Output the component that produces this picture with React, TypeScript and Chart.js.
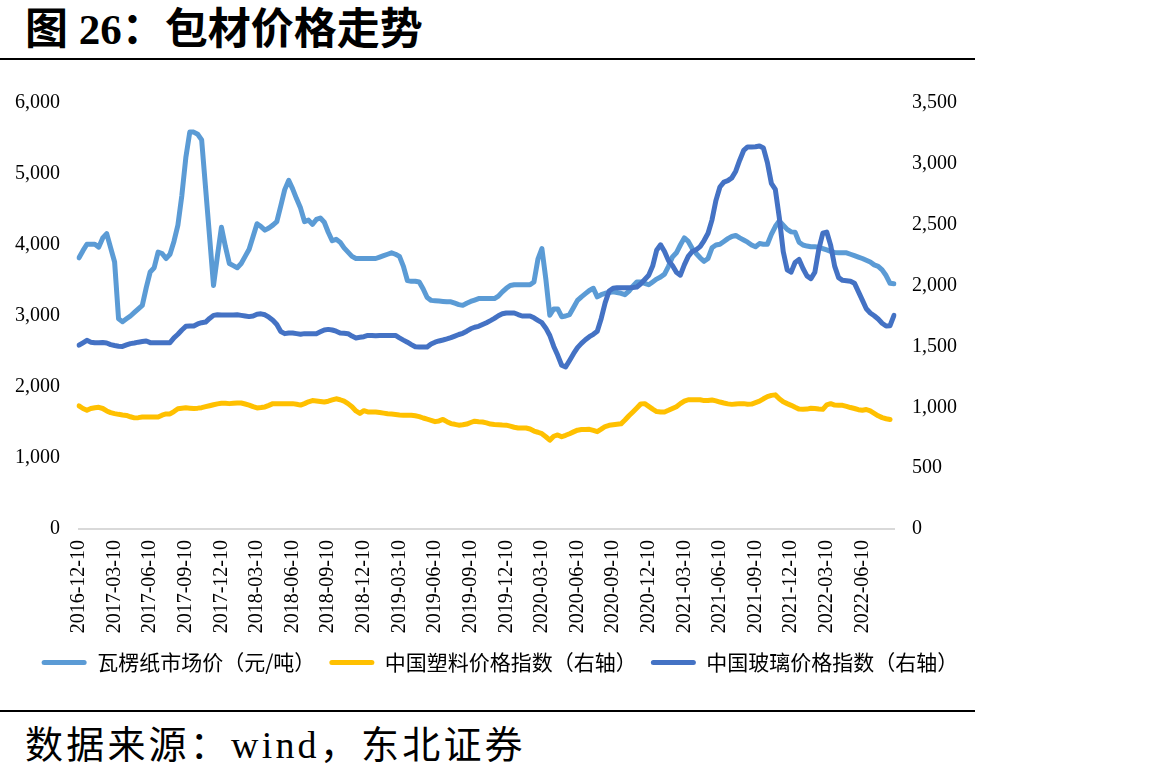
import React, { useEffect, useRef } from "react";
import { Chart, registerables } from "chart.js";

Chart.register(...registerables);

// ---- Data (10-day frequency, 2016-12-10 … 2022-08-30) ----
const seriesNames = ["瓦楞纸市场价（元/吨）", "中国塑料价格指数（右轴）", "中国玻璃价格指数（右轴）"];

const corrugatedPaper: number[] = [
  3820, 3920, 4010, 4010, 4010, 3970, 4100, 4160, 3960, 3760,
  2960, 2920, 2960, 3000, 3050, 3100, 3150, 3400, 3620, 3680,
  3900, 3880, 3810, 3870, 4050, 4280, 4700, 5230, 5590, 5590,
  5560, 5480, 4800, 4120, 3430, 3850, 4250, 3980, 3740, 3710,
  3680, 3740, 3840, 3940, 4120, 4300, 4260, 4210, 4240, 4280,
  4330, 4550, 4780, 4910, 4790, 4650, 4520, 4330, 4350, 4290,
  4360, 4380, 4320, 4180, 4060, 4080, 4040, 3960, 3900, 3840,
  3810, 3810, 3810, 3810, 3810, 3810, 3830, 3850, 3870, 3890,
  3870, 3840, 3700, 3500, 3490, 3490, 3480, 3380, 3260, 3220,
  3215, 3210, 3205, 3200, 3200, 3180, 3160, 3150, 3180, 3205,
  3225, 3245, 3245, 3245, 3245, 3245, 3280, 3340, 3390, 3430,
  3440, 3440, 3440, 3440, 3440, 3480, 3800, 3950, 3520, 3010,
  3100, 3100, 2990, 3000, 3020, 3120, 3220, 3270, 3315, 3360,
  3390, 3270, 3300, 3320, 3330, 3340, 3330, 3320, 3300, 3350,
  3420, 3480, 3480, 3460, 3440, 3480, 3520, 3550, 3590, 3700,
  3830, 3890, 4000, 4100, 4050, 3950, 3880, 3820, 3770, 3810,
  3960, 4000, 4010, 4050, 4090, 4120, 4135, 4100, 4070, 4040,
  4000, 3975, 4020, 4010, 4010, 4150, 4260, 4340, 4280, 4220,
  4185, 4180, 4040, 4000, 3985, 3975, 3975, 3970, 3950, 3930,
  3910, 3895, 3890, 3890, 3890, 3870, 3850, 3830, 3810, 3785,
  3760, 3720, 3700, 3650, 3570, 3460, 3455,
];

const plasticIndex: (number | null)[] = [
  1011, 990, 975, 990, 996, 1000, 990, 970, 956, 948,
  942, 937, 933, 922, 913, 915, 920, 920, 920, 920,
  920, 935, 945, 945, 965, 988, 992, 996, 993, 990,
  993, 997, 1005, 1013, 1021, 1028, 1033, 1033, 1030, 1033,
  1036, 1035, 1027, 1018, 1005, 995, 998, 1003, 1016, 1030,
  1030, 1030, 1030, 1030, 1030, 1025, 1018, 1030, 1045, 1055,
  1052, 1048, 1043, 1050, 1060, 1070, 1062, 1050, 1030, 1005,
  970, 950, 972, 962, 961, 961, 957, 952, 947, 944,
  941, 937, 934, 934, 934, 930, 923, 912, 902, 893,
  882, 888, 900, 882, 866, 860, 853, 856, 862, 875,
  886, 882, 879, 872, 862, 858, 856, 854, 853, 845,
  836, 830, 830, 830, 822, 805, 795, 783, 758, 730,
  762, 773, 758, 770, 783, 798, 812, 817, 818, 819,
  810, 800, 820, 842, 852, 856, 860, 864, 895, 930,
  962, 995, 1028, 1030, 1008, 985, 965, 961, 961, 975,
  990, 1005, 1030, 1050, 1062, 1062, 1062, 1062, 1055, 1055,
  1060, 1053, 1043, 1035, 1028, 1024, 1027, 1030, 1030, 1025,
  1026, 1038, 1050, 1070, 1088, 1098, 1102, 1070, 1045, 1030,
  1016, 1000, 985, 983, 985, 992, 990, 986, 983, 1020,
  1030, 1018, 1016, 1016, 1008, 998, 990, 980, 976, 982,
  970, 950, 930, 915, 906, 900, null,
];

const glassIndex: number[] = [
  1510, 1530, 1550, 1535, 1530, 1530, 1532, 1528, 1515, 1508,
  1502, 1500, 1512, 1523, 1528, 1535, 1540, 1545, 1531, 1531,
  1531, 1531, 1531, 1531, 1570, 1600, 1635, 1665, 1668, 1668,
  1685, 1695, 1700, 1730, 1755, 1760, 1758, 1758, 1758, 1758,
  1760, 1755, 1750, 1745, 1750, 1765, 1768, 1760, 1740, 1715,
  1680, 1622, 1605, 1610, 1610, 1605, 1600, 1605, 1605, 1605,
  1605, 1620, 1635, 1640, 1635, 1625, 1610, 1608, 1605, 1585,
  1570, 1575, 1580, 1590, 1590, 1587, 1590, 1590, 1590, 1590,
  1590, 1570, 1552, 1535, 1515, 1497, 1495, 1495, 1495, 1520,
  1535, 1545, 1553, 1562, 1572, 1585, 1598, 1608, 1625, 1645,
  1658, 1665, 1680, 1695, 1712, 1730, 1752, 1768, 1775, 1775,
  1775, 1762, 1750, 1750, 1750, 1735, 1714, 1695, 1650, 1590,
  1500, 1427, 1345, 1331, 1385, 1440, 1490, 1525, 1555, 1580,
  1600, 1625, 1730, 1860, 1955, 1978, 1983, 1983, 1983, 1983,
  1985, 1988, 2015, 2050, 2085, 2160, 2290, 2335, 2280, 2205,
  2165, 2110, 2085, 2170, 2240, 2280, 2295, 2320, 2370, 2430,
  2540, 2700, 2810, 2850, 2862, 2885, 2940, 3030, 3110, 3139,
  3139, 3140, 3147, 3130, 3010, 2840, 2790, 2560, 2280, 2130,
  2110, 2190, 2215, 2140, 2080, 2057, 2110, 2300, 2430, 2440,
  2330, 2160, 2065, 2043, 2040, 2036, 2020, 1950, 1880, 1810,
  1775, 1752, 1725, 1690, 1668, 1670, 1756,
];

const xTickLabels: string[] = [
  "2016-12-10", "2017-03-10", "2017-06-10", "2017-09-10", "2017-12-10",
  "2018-03-10", "2018-06-10", "2018-09-10", "2018-12-10", "2019-03-10",
  "2019-06-10", "2019-09-10", "2019-12-10", "2020-03-10", "2020-06-10",
  "2020-09-10", "2020-12-10", "2021-03-10", "2021-06-10", "2021-09-10",
  "2021-12-10", "2022-03-10", "2022-06-10",
];

const leftTicks = { min: 0, max: 6000, step: 1000 };
const rightTicks = { min: 0, max: 3500, step: 500 };

// categories: one every 10 days starting 2016-12-10
const categories: string[] = corrugatedPaper.map((_, k) => {
  const mIdx = 11 + Math.floor(k / 3);
  const y = 2016 + Math.floor(mIdx / 12);
  const m = (mIdx % 12) + 1;
  let d = [10, 20, 30][k % 3];
  if (m === 2 && d === 30) d = 28;
  return `${y}-${String(m).padStart(2, "0")}-${d}`;
});

const COLORS = ["#5B9BD5", "#FFC000", "#4472C4"];
const SERIF = '"Liberation Serif", "Times New Roman", serif';
const CJK = '"Noto Sans CJK SC", sans-serif';

const CANVAS_W = 1000;
const CANVAS_H = 611;
const CANVAS_TOP = 72;

function ChartBox() {
  const ref = useRef<HTMLCanvasElement | null>(null);
  useEffect(() => {
    if (!ref.current) return;
    const fmt = (v: number) => Number(v).toLocaleString("en-US");
    const chart = new Chart(ref.current, {
      type: "line",
      data: {
        labels: categories,
        datasets: [
          {
            label: seriesNames[0],
            data: corrugatedPaper,
            yAxisID: "y",
            borderColor: COLORS[0],
            backgroundColor: COLORS[0],
            order: 2,
          },
          {
            label: seriesNames[1],
            data: plasticIndex,
            yAxisID: "y1",
            borderColor: COLORS[1],
            backgroundColor: COLORS[1],
            order: 1,
          },
          {
            label: seriesNames[2],
            data: glassIndex,
            yAxisID: "y1",
            borderColor: COLORS[2],
            backgroundColor: COLORS[2],
            order: 0,
          },
        ],
      },
      options: {
        responsive: false,
        animation: false,
        layout: { padding: { top: 16, left: 0, right: 0, bottom: 0 } },
        elements: {
          line: { borderWidth: 5, tension: 0, borderJoinStyle: "round", borderCapStyle: "round" },
          point: { radius: 0, hoverRadius: 0 },
        },
        plugins: {
          tooltip: { enabled: false },
          legend: {
            position: "bottom",
            labels: {
              boxWidth: 45,
              boxHeight: 5,
              padding: 14,
              color: "#000",
              font: { size: 21, family: CJK },
              sort: (a: any, b: any) => a.datasetIndex - b.datasetIndex,
              generateLabels: (c: any) =>
                (Chart.defaults.plugins.legend.labels.generateLabels as any)(c).map((l: any) => ({
                  ...l,
                  lineWidth: 0,
                  borderRadius: 2.5,
                })),
            },
          },
        },
        scales: {
          x: {
            type: "category",
            offset: false,
            grid: { display: false, drawTicks: false },
            border: { display: true, color: "#d9d9d9", width: 2 },
            ticks: {
              autoSkip: false,
              minRotation: 90,
              maxRotation: 90,
              padding: 11,
              color: "#000",
              font: { size: 20, family: SERIF },
              callback: (_v: any, i: number) =>
                xTickLabels.includes(categories[i]) ? categories[i] : "",
            },
            afterFit: (s: any) => {
              s.height = 109;
            },
          },
          y: {
            position: "left",
            min: leftTicks.min,
            max: leftTicks.max,
            grid: { display: false, drawTicks: false },
            border: { display: false },
            ticks: {
              stepSize: leftTicks.step,
              padding: 19,
              color: "#000",
              font: { size: 20, family: SERIF },
              callback: (v: any) => fmt(v),
            },
            afterFit: (s: any) => {
              s.width = 79;
            },
          },
          y1: {
            position: "right",
            min: rightTicks.min,
            max: rightTicks.max,
            grid: { display: false, drawTicks: false },
            border: { display: false },
            ticks: {
              stepSize: rightTicks.step,
              padding: 18,
              color: "#000",
              font: { size: 20, family: SERIF },
              callback: (v: any) => fmt(v),
            },
            afterFit: (s: any) => {
              s.width = CANVAS_W - 894;
            },
          },
        },
      },
    });
    return () => chart.destroy();
  }, []);
  return (
    <canvas
      ref={ref}
      width={CANVAS_W}
      height={CANVAS_H}
      style={{ position: "absolute", left: 0, top: CANVAS_TOP, width: CANVAS_W, height: CANVAS_H }}
    />
  );
}

export default function App() {
  return (
    <div
      style={{
        position: "absolute",
        left: 0,
        top: 0,
        width: 1172,
        height: 781,
        background: "#fff",
        overflow: "hidden",
      }}
    >
      <div
        style={{
          position: "absolute",
          left: 25,
          top: 8,
          fontFamily: `${SERIF.split(",")[0]}, ${CJK}`,
          fontWeight: "bold",
          fontSize: 43,
          lineHeight: 1,
          whiteSpace: "nowrap",
          color: "#000",
        }}
      >
        图 26：包材价格走势
      </div>
      <div style={{ position: "absolute", left: 0, top: 58, width: 975, height: 2, background: "#000" }} />
      <ChartBox />
      <div style={{ position: "absolute", left: 0, top: 710, width: 975, height: 2, background: "#000" }} />
      <div
        style={{
          position: "absolute",
          left: 25,
          top: 726,
          fontFamily: `${SERIF.split(",")[0]}, ${CJK}`,
          fontSize: 38,
          letterSpacing: 3.2,
          lineHeight: 1,
          whiteSpace: "nowrap",
          color: "#000",
        }}
      >
        数据来源：wind，东北证券
      </div>
    </div>
  );
}
